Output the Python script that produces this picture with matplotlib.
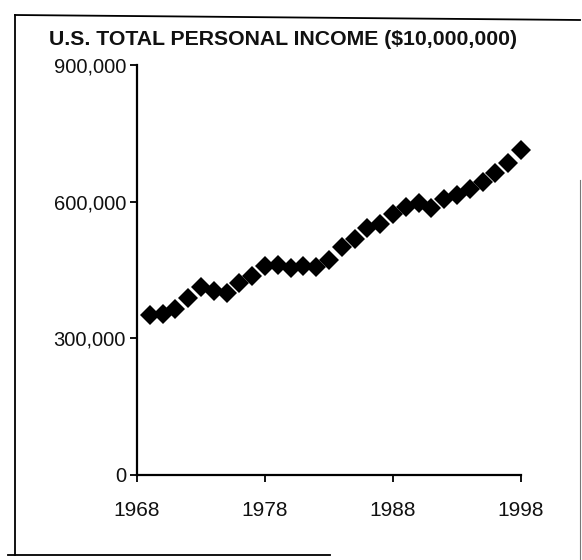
import matplotlib
matplotlib.use("Agg")
import matplotlib.pyplot as plt
from matplotlib.lines import Line2D

plt.rcParams['font.family'] = ['Liberation Sans', 'DejaVu Sans']

# values (units of $10,000,000)
years = list(range(1969, 1999))
income = [351000, 353000, 364000, 388000, 412000, 404000, 400000, 421000,
          437000, 459000, 462000, 454000, 459000, 457000, 472000, 501000,
          518000, 543000, 552000, 573000, 589000, 596000, 587000, 606000,
          614000, 627000, 644000, 662000, 684000, 713000]

year_ticks = [1968, 1978, 1988, 1998]
income_ticks = [0, 300000, 600000, 900000]
income_labels = ['0', '300,000', '600,000', '900,000']
title = 'U.S. TOTAL PERSONAL INCOME ($10,000,000)'

fig = plt.figure(figsize=(5.82, 5.6), dpi=100)
ax = fig.add_axes([137/582, 1 - 475/560, 384/582, 410/560])

ax.plot(years, income, linestyle='none', marker='D', markersize=10,
        color='black', markeredgewidth=0, clip_on=False)

ax.set_xlim(1968, 1998)
ax.set_ylim(0, 900000)
ax.set_xticks(year_ticks)
ax.set_xticklabels([str(y) for y in year_ticks])
ax.set_yticks(income_ticks)
ax.set_yticklabels(income_labels)

for s in ['top', 'right']:
    ax.spines[s].set_visible(False)
for s in ['left', 'bottom']:
    ax.spines[s].set_linewidth(1.6)
ax.tick_params(axis='y', direction='out', length=5, width=1.4, pad=3,
               labelsize=14.5, colors='#111111')
ax.tick_params(axis='x', direction='out', length=5, width=1.4, pad=14,
               labelsize=15, colors='#111111')

fig.text(49/582, 1 - 45/560, title, fontsize=15.3, fontweight='bold',
         va='baseline', ha='left', color='#111111')

# scanned frame around the chart
frame = dict(color='black', linewidth=1.3, transform=fig.transFigure)
fig.add_artist(Line2D([15/582, 15/582], [1 - 15/560, 1 - 555/560], **frame))
fig.add_artist(Line2D([15/582, 580/582], [1 - 15/560, 1 - 20/560], **frame))
fig.add_artist(Line2D([8/582, 330/582], [1 - 555/560, 1 - 555/560], **frame))
fig.add_artist(Line2D([580/582, 580/582], [1 - 180/560, 0], color='#777777',
                      linewidth=0.8, transform=fig.transFigure))

fig.savefig('out.png', dpi=100)
